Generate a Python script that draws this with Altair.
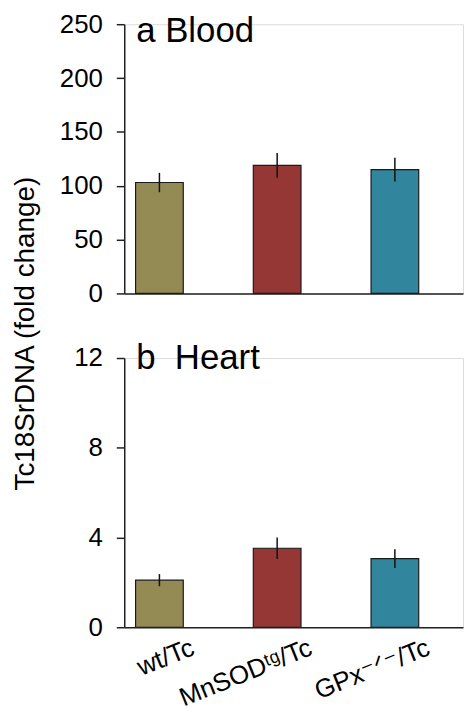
import altair as alt
import pandas as pd

categories = ["wt/Tc", "MnSODᵗᵍ/Tc", "GPx⁻ᐟ⁻/Tc"]
colors = ["#948a54", "#953735", "#31859c"]

blood_mean = [103, 119, 115]
blood_err = [9, 11.5, 11]
heart_mean = [2.1, 3.52, 3.06]
heart_err = [0.27, 0.48, 0.42]

blood_ticks = [0, 50, 100, 150, 200, 250]
heart_ticks = [0, 4, 8, 12]

FONT = "Liberation Sans, Arial, DejaVu Sans"
W, H = 341, 271


def make_df(mean, err):
    return pd.DataFrame({
        "group": categories,
        "mean": mean,
        "lo": [m - e for m, e in zip(mean, err)],
        "hi": [m + e for m, e in zip(mean, err)],
    })


def panel(mean, err, ticks, title, title_dy, show_labels, y_title):
    df = make_df(mean, err)
    xscale = alt.Scale(domain=categories, paddingInner=0.595, paddingOuter=0.2363, align=0.204)
    yscale = alt.Scale(domain=[ticks[0], ticks[-1]], nice=False, zero=True)
    xaxis = alt.Axis(
        title=None, labels=show_labels, ticks=False, domainColor="#222", domainWidth=1.5,
        labelAngle=-22, labelAlign="right", labelBaseline="top", labelOffset=29,
        labelPadding=7, labelFontSize=26, labelFont=FONT, labelColor="black",
    )
    yaxis_kwargs = dict(
        values=ticks, grid=False, domainColor="#222", domainWidth=1.5, tickColor="#222",
        tickWidth=1.5, tickSize=8, labelFontSize=26, labelFont=FONT, labelColor="black",
        labelPadding=14,
    )
    if y_title:
        yaxis_kwargs.update(
            title="Tc18SrDNA (fold change)", titleFontSize=28, titleFont=FONT,
            titleFontWeight="normal", titleColor="black", titleAngle=-90,
            titleAlign="center", titleBaseline="alphabetic", titleX=-91, titleY=311,
        )
    else:
        yaxis_kwargs.update(title=None)
    yaxis = alt.Axis(**yaxis_kwargs)

    base = alt.Chart(df)
    bars = base.mark_bar(stroke="#1a1a1a", strokeWidth=1.2).encode(
        x=alt.X("group:N", scale=xscale, axis=xaxis, sort=categories),
        y=alt.Y("mean:Q", scale=yscale, axis=yaxis),
        color=alt.Color("group:N", scale=alt.Scale(domain=categories, range=colors), legend=None),
    )
    errs = base.mark_rule(color="#111", strokeWidth=1.5).encode(
        x=alt.X("group:N", scale=xscale, sort=categories),
        y="lo:Q",
        y2="hi:Q",
    )
    return alt.layer(bars, errs).properties(
        width=W, height=H,
        title=alt.TitleParams(
            title, anchor="start", frame="group", fontSize=35, font=FONT,
            fontWeight="normal", color="black", baseline="alphabetic",
            offset=0, dx=12, dy=title_dy,
        ),
    )


top = panel(blood_mean, blood_err, blood_ticks, "a Blood", 65.5, False, True)
bottom = panel(heart_mean, heart_err, heart_ticks, "b\u00a0\u00a0Heart", 59, True, False)

chart = alt.vconcat(top, bottom, spacing=65, bounds="flush").properties(
    padding={"top": 0, "left": 3, "right": 0, "bottom": 0},
).configure_view(stroke=None).configure(background="white")

chart.save("out.html", embed_options={"renderer": "svg", "actions": False})
